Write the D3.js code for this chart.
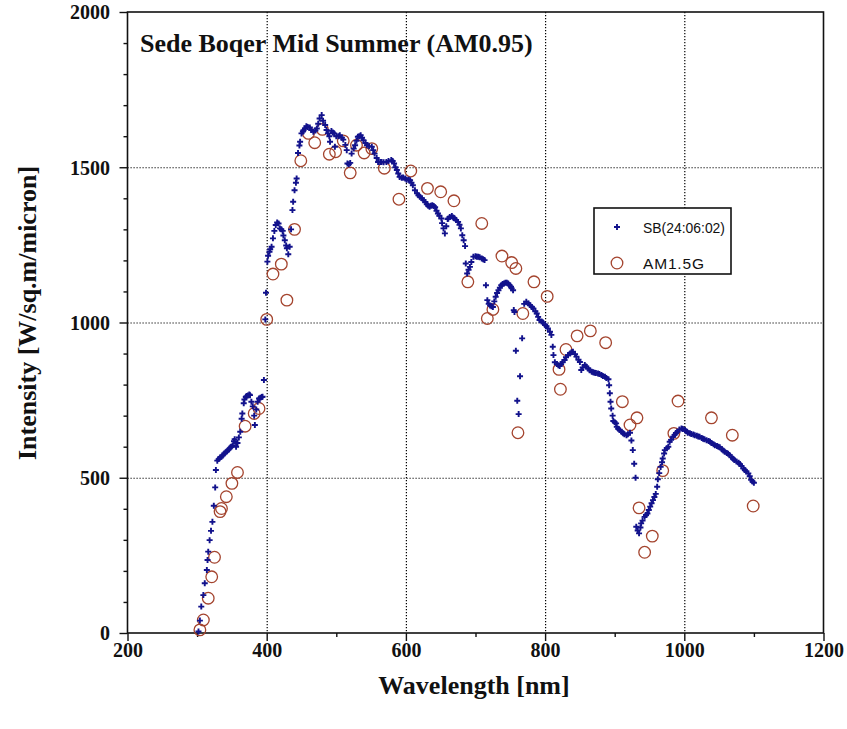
<!DOCTYPE html>
<html>
<head>
<meta charset="utf-8">
<script src="https://cdn.jsdelivr.net/npm/d3@7"></script>
<style>
  body { margin: 0; background: #fff; }
  svg { display: block; }
  .serif { font-family: "Liberation Serif", "Times New Roman", serif; font-weight: bold; fill: #111; }
</style>
</head>
<body>
<svg id="chart" width="847" height="729"></svg>
<script>
// tick values / labels
var xMajor = [200, 400, 600, 800, 1000, 1200];
var xMinor = [300, 500, 700, 900, 1100];
var xGrid = [400, 600, 800, 1000];
var yMajor = [0, 500, 1000, 1500, 2000];
var yMinor = [100, 200, 300, 400, 600, 700, 800, 900, 1100, 1200, 1300, 1400, 1600, 1700, 1800, 1900];
var yGrid = [500, 1000, 1500];

var seriesNames = ["SB(24:06:02)", "AM1.5G"];

// measured spectrum, Sede Boqer 24 June 02 (nm)
var sbNm = [302,304,306,309,311,314,315,316,318,320,322,324,326,327,329,331,333,335,337,339,
  341,343,345,347,349,351,353,354,356,358,360,362,364,365,367,368,370,371,373,375,
  376,378,380,382,383,385,387,389,391,393,394,396,398,399,401,402,404,405,407,409,
  411,413,415,417,419,421,423,424,426,428,429,431,433,435,437,438,440,442,443,445,
  447,448,450,452,453,455,457,459,462,464,467,470,472,474,476,479,481,484,486,488,
  490,491,493,495,497,498,500,503,505,508,510,513,515,516,518,520,522,525,527,529,
  531,533,535,537,539,542,544,547,551,553,555,558,560,563,565,568,572,575,579,581,
  583,585,587,589,591,594,596,599,601,604,606,608,610,613,616,618,620,623,625,628,
  630,632,634,636,638,640,642,644,646,648,651,652,654,656,658,660,661,663,666,668,
  670,672,675,677,679,681,683,685,686,688,690,692,694,697,700,702,704,706,709,711,
  713,715,717,719,721,723,725,727,729,731,733,735,737,739,741,743,745,747,749,751,
  752,754,755,756,758,760,762,764,767,770,773,776,778,781,783,786,788,790,792,795,
  797,800,802,804,807,809,811,812,814,817,819,821,823,825,828,830,833,836,838,840,
  843,845,848,850,852,854,857,859,862,864,867,869,871,873,876,878,881,883,886,888,
  891,892,893,894,895,897,898,900,902,903,905,907,910,912,914,917,919,922,924,926,
  928,930,931,933,935,937,938,940,943,945,947,949,951,953,955,957,959,961,962,964,
  966,968,969,971,972,975,977,979,981,984,986,988,990,993,996,998,1001,1003,1005,1008,
  1010,1013,1015,1018,1020,1022,1025,1027,1029,1032,1035,1037,1039,1042,1044,1047,1049,1051,1054,1056,
  1058,1061,1063,1065,1068,1070,1072,1075,1078,1080,1082,1085,1087,1089,1092,1094,1096,1098,1100];
// W/sq.m/micron
var sbW = [5,40,85,122,160,203,235,262,299,329,358,410,469,525,555,560,565,568,572,578,
  582,585,590,595,600,605,618,624,600,612,630,648,690,707,740,752,760,763,765,768,
  766,745,730,700,670,720,745,755,758,760,761,815,1010,1096,1196,1215,1228,1236,1244,1271,
  1295,1314,1322,1319,1303,1300,1295,1280,1265,1248,1239,1220,1244,1300,1362,1389,1426,1450,1464,1546,
  1570,1582,1609,1615,1619,1625,1632,1630,1628,1620,1614,1618,1625,1640,1657,1668,1650,1636,1620,1609,
  1600,1582,1617,1612,1609,1566,1600,1600,1603,1595,1589,1572,1555,1512,1510,1514,1544,1560,1571,1585,
  1598,1600,1603,1595,1587,1578,1571,1568,1566,1555,1544,1530,1517,1517,1517,1516,1517,1520,1523,1520,
  1512,1500,1491,1480,1469,1466,1467,1464,1460,1460,1458,1450,1442,1426,1416,1410,1405,1400,1394,1388,
  1381,1376,1373,1376,1378,1375,1371,1360,1351,1344,1335,1320,1303,1287,1310,1333,1335,1340,1343,1338,
  1335,1330,1324,1315,1303,1281,1265,1246,1190,1158,1170,1179,1195,1212,1213,1212,1212,1210,1206,1204,
  1201,1120,1072,1060,1055,1052,1050,1068,1083,1095,1104,1112,1120,1124,1126,1128,1128,1126,1120,1115,
  1110,1104,1040,1034,909,748,705,827,949,1060,1067,1061,1056,1050,1045,1036,1029,1018,1008,1003,
  1000,992,988,981,970,960,922,895,872,866,862,860,866,872,879,888,895,900,904,906,
  898,890,880,873,847,855,863,858,852,846,841,840,838,837,836,834,831,828,825,821,
  817,798,772,745,723,700,683,679,675,664,658,654,648,643,640,637,640,645,620,589,
  545,500,342,330,321,340,353,362,374,380,385,396,407,418,428,438,448,471,495,515,
  535,550,562,578,589,595,600,616,622,632,638,644,648,655,659,657,654,650,645,643,
  641,639,637,635,633,632,628,626,624,621,618,616,612,608,605,602,600,598,592,588,
  584,580,577,573,566,561,557,552,548,544,538,530,525,520,514,505,493,488,484];

// AM1.5G reference spectrum
var amNm = [304,309,316,321,325,333,335,342,350,358,369,382,389,400,409,421,429,440,449,460,
  469,480,490,499,510,520,529,540,551,569,590,607,631,650,669,689,709,717,725,738,
  752,758,761,768,784,803,820,822,830,846,865,887,911,922,932,935,943,954,969,985,
  991,1039,1069,1099];
var amW = [10,42,112,181,244,391,401,439,482,517,666,707,723,1010,1156,1188,1072,1300,1521,1609,
  1579,1622,1542,1550,1585,1482,1571,1546,1560,1497,1397,1488,1432,1421,1392,1131,1319,1013,1042,1214,
  1193,1174,645,1029,1131,1084,849,785,913,957,973,935,745,670,693,403,260,312,523,643,
  747,693,637,409];

var svg = d3.select("#chart");
var plotLeft = 127.5, plotRight = 823.5, plotTop = 12, plotBottom = 633;

var x = d3.scaleLinear().domain([200, 1200]).range([plotLeft, plotRight]);
var y = d3.scaleLinear().domain([0, 2000]).range([plotBottom, plotTop]);

var blue = "#12128c", brown = "#a4442e";

svg.append("rect").attr("width", 847).attr("height", 729).attr("fill", "#fff");

// dotted grid
svg.append("g")
    .attr("transform", "translate(0," + plotTop + ")")
    .call(d3.axisBottom(x).tickValues(xGrid).tickSize(plotBottom - plotTop).tickFormat(""))
    .call(function(g) { g.select(".domain").remove(); })
    .selectAll("line").attr("stroke", "#000").attr("stroke-width", 1.2).attr("stroke-dasharray", "1.2,1.8");

svg.append("g")
    .attr("transform", "translate(" + plotLeft + ",0)")
    .call(d3.axisRight(y).tickValues(yGrid).tickSize(plotRight - plotLeft).tickFormat(""))
    .call(function(g) { g.select(".domain").remove(); })
    .selectAll("line").attr("stroke", "#000").attr("stroke-width", 1.2).attr("stroke-dasharray", "1.2,1.8");

// x axis
var xAxis = svg.append("g").attr("transform", "translate(0," + plotBottom + ")");
xAxis.append("g")
    .call(d3.axisBottom(x).tickValues(xMinor).tickSize(4).tickFormat(""))
    .call(function(g) { g.select(".domain").remove(); });
xAxis.append("g")
    .call(d3.axisBottom(x).tickValues(xMajor).tickSize(8).tickSizeOuter(0).tickFormat(d3.format("d")))
    .call(function(g) { g.select(".domain").remove(); })
    .selectAll("text")
    .attr("class", "serif").attr("y", 24).attr("dy", null)
    .style("font-size", "20px");

// y axis
var yAxis = svg.append("g").attr("transform", "translate(" + plotLeft + ",0)");
yAxis.append("g")
    .call(d3.axisLeft(y).tickValues(yMinor).tickSize(4).tickFormat(""))
    .call(function(g) { g.select(".domain").remove(); });
yAxis.append("g")
    .call(d3.axisLeft(y).tickValues(yMajor).tickSize(8).tickPadding(9.5).tickFormat(d3.format("d")))
    .call(function(g) { g.select(".domain").remove(); })
    .selectAll("text")
    .attr("class", "serif").attr("dy", "0.34em")
    .style("font-size", "20px");

svg.selectAll(".tick line").filter(function() { return !this.getAttribute("stroke-dasharray"); })
    .attr("stroke", "#111").attr("stroke-width", 1.4);
svg.selectAll(".tick text").attr("font-family", null);

// frame
svg.append("rect")
    .attr("x", plotLeft).attr("y", plotTop)
    .attr("width", plotRight - plotLeft).attr("height", plotBottom - plotTop)
    .attr("fill", "none").attr("stroke", "#111").attr("stroke-width", 1.6);

// titles
svg.append("text").attr("class", "serif")
    .attr("x", 140).attr("y", 52)
    .style("font-size", "26px")
    .text("Sede Boqer Mid Summer (AM0.95)");

svg.append("text").attr("class", "serif")
    .attr("x", 474).attr("y", 694).attr("text-anchor", "middle")
    .style("font-size", "26px")
    .text("Wavelength [nm]");

svg.append("text").attr("class", "serif")
    .attr("transform", "translate(36,313) rotate(-90)")
    .attr("text-anchor", "middle")
    .style("font-size", "26px")
    .text("Intensity [W/sq.m/micron]");

// AM1.5G circles
var amData = amNm.map(function(d, i) { return [d, amW[i]]; });
svg.append("g").selectAll("circle")
    .data(amData)
    .enter().append("circle")
    .attr("cx", function(d) { return x(d[0]); })
    .attr("cy", function(d) { return y(d[1]); })
    .attr("r", 5.8)
    .attr("fill", "none")
    .attr("stroke", brown)
    .attr("stroke-width", 1.3);

// measured plus markers
var plus = "M-3,0H3M0,-3V3";
var sbData = sbNm.map(function(d, i) { return [d, sbW[i]]; });
svg.append("g").selectAll("path")
    .data(sbData)
    .enter().append("path")
    .attr("d", plus)
    .attr("transform", function(d) { return "translate(" + x(d[0]) + "," + y(d[1]) + ")"; })
    .attr("stroke", blue)
    .attr("stroke-width", 1.9);

// legend
var legend = svg.append("g").attr("transform", "translate(594,208)");
legend.append("rect")
    .attr("width", 137).attr("height", 66)
    .attr("fill", "#fff").attr("stroke", "#111").attr("stroke-width", 1.6);
legend.append("path").attr("d", plus)
    .attr("transform", "translate(23,19)")
    .attr("stroke", blue).attr("stroke-width", 1.9);
legend.append("circle").attr("cx", 23).attr("cy", 55).attr("r", 5.8)
    .attr("fill", "none").attr("stroke", brown).attr("stroke-width", 1.3);
legend.selectAll("text.lab")
    .data(seriesNames)
    .enter().append("text")
    .attr("class", "lab")
    .attr("x", 49)
    .attr("y", function(d, i) { return 25 + i * 36; })
    .attr("textLength", function(d, i) { return i === 0 ? 82 : 61; })
    .attr("lengthAdjust", function(d, i) { return i === 0 ? "spacingAndGlyphs" : "spacing"; })
    .style("font-family", "'Liberation Sans', Arial, sans-serif")
    .style("font-size", "15.5px")
    .style("fill", "#111")
    .text(function(d) { return d; });
</script>
</body>
</html>
